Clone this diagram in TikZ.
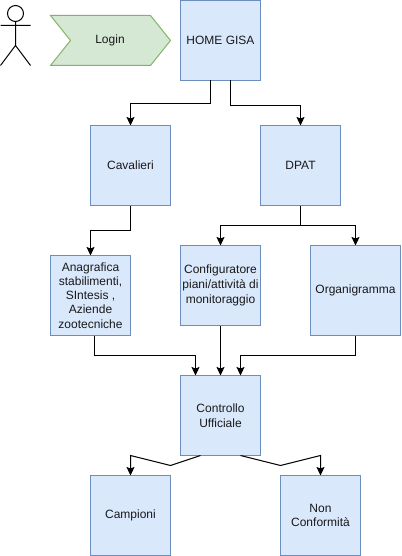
\documentclass[tikz,border=0pt]{standalone}
\usepackage{fontspec}
\setmainfont{Liberation Sans}
\usetikzlibrary{arrows.meta}
\definecolor{boxfill}{HTML}{DAE8FC}
\definecolor{boxline}{HTML}{6C8EBF}
\definecolor{greenfill}{HTML}{D5E8D4}
\definecolor{greenline}{HTML}{82B366}
\tikzset{
  bluebox/.style={draw=boxline,fill=boxfill,line width=1pt,minimum width=#1,inner sep=0pt,outer sep=0pt,align=center,font=\fontsize{12}{14.7}\selectfont,text=black!90},
  bluebox/.default=80pt,
  conn/.style={draw=black,line width=1pt,-{Stealth[length=8.5pt,width=8pt,inset=1.5pt]},rounded corners=0pt},
  person/.style={draw=black,line width=1pt}
}
\begin{document}
\begin{tikzpicture}[x=1pt,y=-1pt]
\useasboundingbox (0,0) rectangle (401,556);
% actor
\draw[person] (15.5,13.5) circle (8);
\draw[person] (15.5,21.5) -- (15.5,45.5) (0.5,25.5) -- (30.5,25.5) (0.5,65.5) -- (15.5,45.5) -- (30.5,65.5);
% login
\draw[draw=greenline,fill=greenfill,line width=1pt] (50.5,15.5) -- (150.5,15.5) -- (170.5,40.5) -- (150.5,65.5) -- (50.5,65.5) -- (70.5,40.5) -- cycle;
\node[font=\fontsize{12}{14.7}\selectfont,text=black!90] (login) at (110,40.5) {Login};
% boxes
\node[bluebox,minimum height=80pt] (home) at (220.5,40.5) {HOME GISA};
\node[bluebox,minimum height=80pt] (cav) at (130.5,165.5) {Cavalieri};
\node[bluebox,minimum height=80pt] (dpat) at (300.5,165.5) {DPAT};
\node[bluebox,minimum height=80pt,font=\fontsize{12}{14.2}\selectfont] (ana) at (90.5,295.5) {Anagrafica\\stabilimenti,\\SIntesis ,\\Aziende\\zootecniche};
\node[bluebox,minimum height=80pt] (conf) at (220.5,285.5) {Configuratore\\piani/attività di\\monitoraggio};
\node[bluebox=90pt,minimum height=90pt] (org) at (355.5,290.5) {\raisebox{-0.6pt}{Organigramma}};
\node[bluebox,minimum height=80pt] (ctrl) at (220.5,415.5) {Controllo\\Ufficiale};
\node[bluebox,minimum height=80pt] (camp) at (130.5,515.5) {Campioni};
\node[bluebox,minimum height=80pt] (nc) at (320.5,515.5) {Non\\Conformità};
% connectors
\draw[conn] ([xshift=-10pt]home.south) |- ++(-80,23) -- (cav.north);
\draw[conn] ([xshift=10pt]home.south) -- ++(0,25) -| (dpat.north);
\draw[conn] (cav.south) -- ++(0,25) -| (ana.north);
\draw[conn] (dpat.south) -- ++(0,20) -| (conf.north);
\draw[conn] (dpat.south) -- ++(0,20) -| (org.north);
\draw[conn] ([xshift=-36pt]ana.south east) -- ++(0,20) -| ([xshift=-25pt]ctrl.north);
\draw[conn] (conf.south) -- (ctrl.north);
\draw[conn] (org.south) -- ++(0,20) -| ([xshift=20pt]ctrl.north);
\draw[conn] ([xshift=-20pt]ctrl.south) -- ++(-30,10) -- ++(-40,-10) -- (camp.north);
\draw[conn] ([xshift=20pt]ctrl.south) -- ++(40,10) -- ++(40,-10) -- (nc.north);
\end{tikzpicture}
\end{document}
